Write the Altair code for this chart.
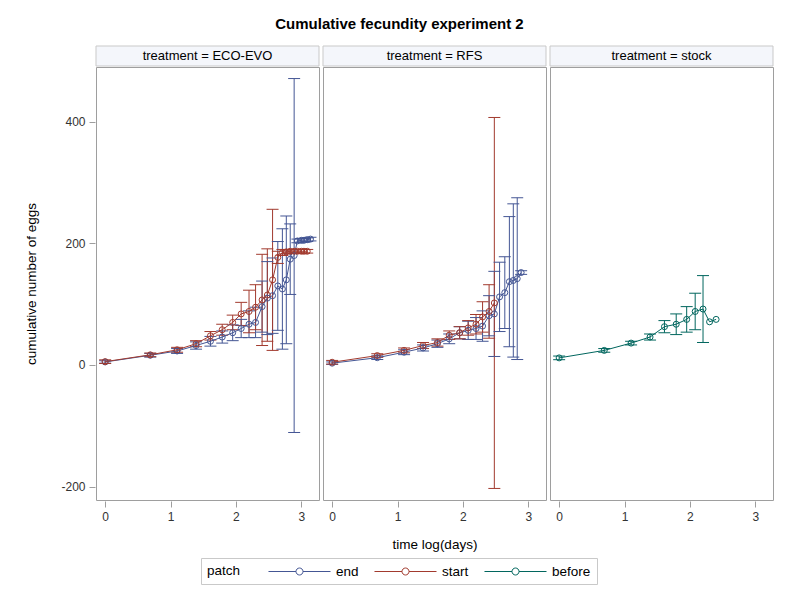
import altair as alt
import pandas as pd

# x values: time log(days) for days 1..23
log_days = [0.00, 0.69, 1.10, 1.39, 1.61, 1.79, 1.95, 2.08, 2.20, 2.30, 2.40, 2.48,
            2.56, 2.64, 2.71, 2.77, 2.83, 2.89, 2.94, 3.00, 3.04, 3.09, 3.14]

treatments = ["ECO-EVO", "RFS", "stock"]
patches = ["end", "start", "before"]
patch_colors = ["#445694", "#A23A2E", "#01665E"]

# ECO-EVO
eco_end_mean = [5, 16, 23, 32, 39, 46, 53, 60, 67, 70, 96, 110, 114, 130, 125, 140, 174, 180, 204, 205, 205, 206, 207]
eco_end_err = [2, 3, 4, 6, 8, 10, 13, 15, 22, 25, 42, 60, 62, 73, 99, 105, 58, 291, 3, 3, 3, 3, 3]
eco_start_mean = [5.5, 16.7, 25, 35, 48, 58, 70, 84, 88, 95, 107, 115, 140, 177, 185, 186, 187, 187, 187, 187, 187, 187]
eco_start_err = [3, 3, 4, 5, 7, 9, 12, 19, 35, 37, 75, 76, 116, 10, 5, 3, 3, 3, 3, 3, 3, 3]

# RFS
rfs_end_mean = [3, 12, 21, 28, 35, 43, 53, 57, 60, 64, 81, 84, 112, 119, 137, 139, 142, 152]
rfs_end_err = [2, 3, 4, 5, 6, 8, 10, 15, 18, 25, 33, 70, 57, 59, 107, 126, 133, 3]
rfs_start_mean = [4.5, 15.5, 24, 32, 37, 49, 53, 61, 67, 79, 88, 102]
rfs_start_err = [3, 3, 4, 5, 6, 7, 10, 12, 16, 25, 44, 305]

# stock
stock_before_mean = [11.7, 24, 36, 46, 63, 67, 75, 88, 92, 71, 75]
stock_before_err = [3, 3, 3, 5, 10, 17, 21, 30, 55, 0, 0]

series = [
    ("ECO-EVO", "end", eco_end_mean, eco_end_err),
    ("ECO-EVO", "start", eco_start_mean, eco_start_err),
    ("RFS", "end", rfs_end_mean, rfs_end_err),
    ("RFS", "start", rfs_start_mean, rfs_start_err),
    ("stock", "before", stock_before_mean, stock_before_err),
]
rows = []
for trt, patch, means, errs in series:
    for t, m, e in zip(log_days, means, errs):
        rows.append({"treatment": trt, "patch": patch, "t": t, "mean": m,
                     "low": m - e, "high": m + e, "err": e})
df = pd.DataFrame(rows)

FONT = "Liberation Sans"
W, H = 223, 433

xs = alt.Scale(domain=[-0.14, 3.27], nice=False, zero=False)
ys = alt.Scale(domain=[-222, 490], nice=False, zero=False)
x_axis = alt.Axis(values=[0, 1, 2, 3], format="d", title=None)
y_axis = alt.Axis(values=[-200, 0, 200, 400], title="cumulative number of eggs",
                  labelExpr="replace(datum.label, '\u2212', '-')")
YT = "cumulative number of eggs"
pscale = alt.Scale(domain=patches, range=patch_colors)

# legend symbol: a line with an open circle in the middle
sym_path = "M-4.43,0L-0.5,0M0.5,0L4.43,0M-0.5,0A0.5,0.5,0,1,0,0.5,0A0.5,0.5,0,1,0,-0.5,0"
legend = alt.Legend(
    title="patch", orient="none", legendX=105, legendY=491, direction="horizontal",
    titleOrient="left", titleAnchor="middle", titleBaseline="middle",
    symbolType=sym_path, symbolSize=196, symbolStrokeWidth=1,
    symbolFillColor="transparent", symbolOffset=24, labelOffset=29,
    labelFont=FONT, titleFont=FONT, labelFontSize=13.5, titleFontSize=13.5,
    titleFontWeight="normal", titleColor="#000000", labelColor="#000000",
    strokeColor="#C9C9C9", padding=6, columnPadding=13, titlePadding=27,
)
color_enc = alt.Color("patch:N", scale=pscale, legend=legend)

base = alt.Chart()
x_enc = alt.X("t:Q", scale=xs, axis=x_axis)

strip = base.transform_aggregate(n="count()", groupby=["treatment"]).mark_rect(
    fill="#F4F6FB", stroke="#C9C9C9", strokeWidth=1
).encode(x=alt.value(0), x2=alt.value(W), y=alt.value(-21), y2=alt.value(-1))

strip_text = base.transform_aggregate(n="count()", groupby=["treatment"]).transform_calculate(
    label="'treatment = ' + datum.treatment"
).mark_text(font=FONT, fontSize=13, color="#000000", baseline="middle").encode(
    x=alt.value(W / 2), y=alt.value(-11), text="label:N"
)

bars = base.transform_filter("datum.err > 0")
rules = bars.mark_rule(strokeWidth=1).encode(
    x=x_enc, y=alt.Y("low:Q", scale=ys, axis=y_axis, title=YT), y2="high:Q",
    color=color_enc,
)
cap_lo = bars.mark_rule(strokeWidth=1, xOffset=-6, x2Offset=6).encode(
    x=x_enc, x2="t:Q", y=alt.Y("low:Q", scale=ys, axis=y_axis, title=YT), color=color_enc,
)
cap_hi = bars.mark_rule(strokeWidth=1, xOffset=-6, x2Offset=6).encode(
    x=x_enc, x2="t:Q", y=alt.Y("high:Q", scale=ys, axis=y_axis, title=YT), color=color_enc,
)
line = base.mark_line(strokeWidth=1).encode(
    x=x_enc, y=alt.Y("mean:Q", scale=ys, axis=y_axis, title=YT), color=color_enc,
    order="t:Q",
)
points = base.mark_point(shape="circle", filled=False, size=36, strokeWidth=1, opacity=1).encode(
    x=x_enc, y=alt.Y("mean:Q", scale=ys, axis=y_axis, title=YT), color=color_enc,
)

layered = alt.layer(strip, strip_text, rules, cap_lo, cap_hi, line, points, data=df).properties(
    width=W, height=H
)

chart = layered.facet(
    column=alt.Column("treatment:N", sort=treatments, title="time log(days)",
                      header=alt.Header(labels=False, titleOrient="bottom", titleFont=FONT,
                                        titleFontSize=13.5, titleFontWeight="normal",
                                        titleColor="#000000", titlePadding=6)),
    spacing=2,
).properties(
    title=alt.TitleParams("Cumulative fecundity experiment 2", font=FONT, fontSize=15,
                          fontWeight="bold", color="#000000", anchor="middle", frame="bounds",
                          offset=13),
    padding={"left": 24, "top": 17, "right": 16, "bottom": 5},
).configure_view(stroke="#9E9E9E", strokeWidth=1).configure_axis(
    labelFont=FONT, titleFont=FONT, labelFontSize=12, titleFontSize=13.5,
    labelColor="#333333", titleColor="#000000", titleFontWeight="normal",
    tickColor="#9E9E9E", tickSize=6, domain=False, grid=False, labelPadding=4,
).configure_axisY(titlePadding=22)

chart.save("out.html", embed_options={"renderer": "svg", "actions": False})
